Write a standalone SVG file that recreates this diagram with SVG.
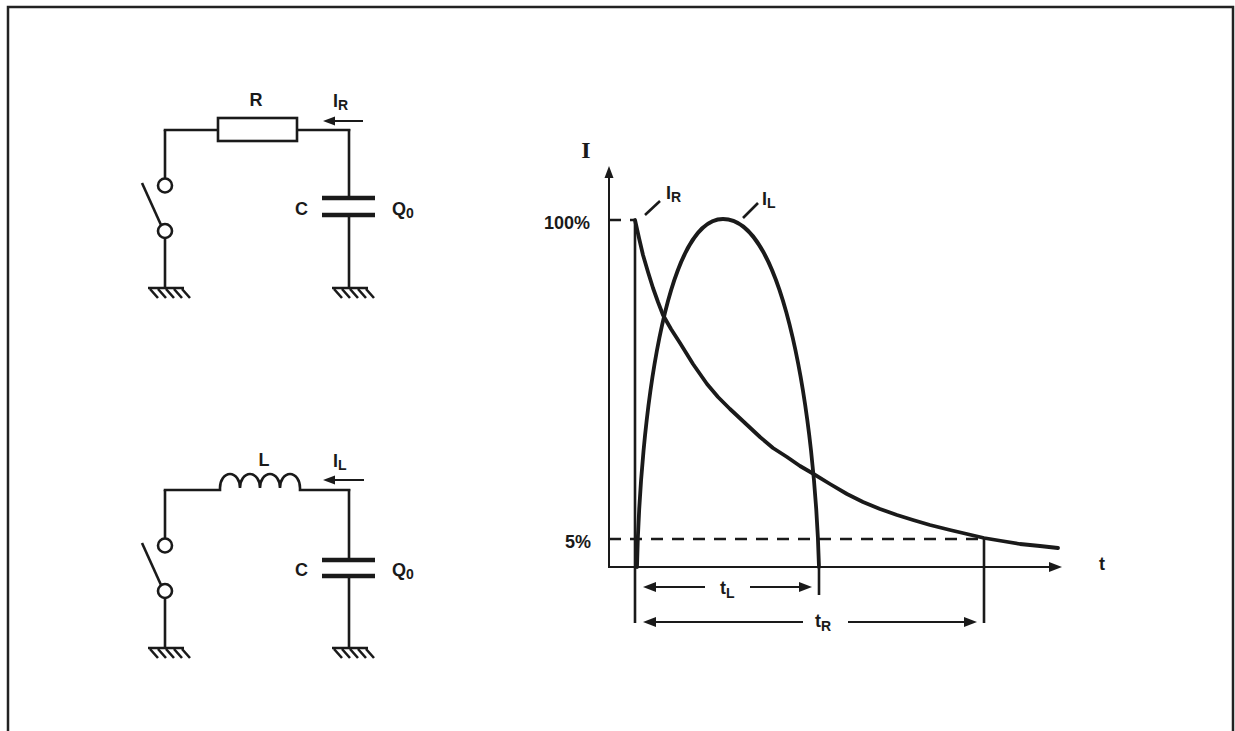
<svg xmlns="http://www.w3.org/2000/svg" width="1235" height="731" viewBox="0 0 1235 731">
<style>
.w{fill:none;stroke:#1a1a1a;stroke-width:2.6;stroke-linecap:butt}
.thin{fill:none;stroke:#1a1a1a;stroke-width:2}
.cv{fill:none;stroke:#1a1a1a;stroke-width:3.8;stroke-linejoin:round;stroke-linecap:round}
.plate{stroke:#1a1a1a;stroke-width:4.5}
.dash{fill:none;stroke:#1a1a1a;stroke-width:2.4;stroke-dasharray:12 9}
.hd{fill:#1a1a1a}
.lb{font-family:"Liberation Sans",Arial,sans-serif;font-size:18px;font-weight:bold;fill:#1a1a1a}
.sb{font-size:14px}
</style>
<defs>
<g id="gnd">
<line class="w" x1="-17" y1="0" x2="19" y2="0"/>
<path class="w" d="M-15,1 l8,9 M-7,1 l8,9 M1,1 l8,9 M9,1 l8,9 M17,1 l8,9"/>
</g>
</defs>
<g id="frame">
<path d="M8,731 V7 H1233 V731" fill="none" stroke="#222" stroke-width="2.5"/>
</g>
<g id="circuit-R">
<g id="switch-R">
<line class="w" x1="165" y1="130" x2="165" y2="178.5"/>
<circle class="w" cx="165" cy="185.5" r="7"/>
<circle class="w" cx="165" cy="231" r="7"/>
<line class="w" x1="142" y1="183" x2="161" y2="225"/>
<line class="w" x1="165" y1="238" x2="165" y2="288"/>
<use href="#gnd" x="165" y="288"/>
</g>
<g id="resistor">
<line class="w" x1="163.7" y1="130" x2="218" y2="130"/>
<rect class="w" x="218" y="118" width="79" height="23"/>
<line class="w" x1="297" y1="130" x2="350.3" y2="130"/>
<text class="lb" x="256" y="106" text-anchor="middle">R</text>
</g>
<g id="capacitor-R">
<line class="w" x1="349" y1="129" x2="349" y2="198"/>
<line class="plate" x1="322" y1="198" x2="375" y2="198"/>
<line class="plate" x1="322" y1="215" x2="375" y2="215"/>
<line class="w" x1="349" y1="215" x2="349" y2="288"/>
<use href="#gnd" x="349" y="288"/>
<text class="lb" x="308" y="215" text-anchor="end">C</text>
<text class="lb" x="392" y="215">Q<tspan class="sb" dy="3">0</tspan></text>
</g>
<g id="current-R">
<line class="thin" x1="333" y1="121" x2="363" y2="121"/>
<path class="hd" d="M323,121 L335,116.5 L335,125.5 Z"/>
<text class="lb" x="333" y="107">I<tspan class="sb" dy="3">R</tspan></text>
</g>
</g>
<g id="circuit-L">
<g id="switch-L">
<line class="w" x1="165" y1="490" x2="165" y2="538.5"/>
<circle class="w" cx="165" cy="545.5" r="7"/>
<circle class="w" cx="165" cy="591" r="7"/>
<line class="w" x1="142" y1="543" x2="161" y2="585"/>
<line class="w" x1="165" y1="598" x2="165" y2="648"/>
<use href="#gnd" x="165" y="648"/>
</g>
<g id="inductor">
<path class="w" d="M163.7,490 H220 V488 A10,14 0 0 1 240,488 A10,14 0 0 1 260,488 A10,14 0 0 1 280,488 A10,14 0 0 1 300,488 V490 H350.3"/>
<text class="lb" x="264" y="466" text-anchor="middle">L</text>
</g>
<g id="capacitor-L">
<line class="w" x1="349" y1="489" x2="349" y2="560"/>
<line class="plate" x1="322" y1="560" x2="375" y2="560"/>
<line class="plate" x1="322" y1="576" x2="375" y2="576"/>
<line class="w" x1="349" y1="576" x2="349" y2="648"/>
<use href="#gnd" x="349" y="648"/>
<text class="lb" x="308" y="576" text-anchor="end">C</text>
<text class="lb" x="392" y="576">Q<tspan class="sb" dy="3">0</tspan></text>
</g>
<g id="current-L">
<line class="thin" x1="333" y1="480" x2="364" y2="480"/>
<path class="hd" d="M323,480 L335,475.5 L335,484.5 Z"/>
<text class="lb" x="333" y="467">I<tspan class="sb" dy="3">L</tspan></text>
</g>
</g>
<g id="graph">
<g id="axes">
<line class="thin" x1="609" y1="568" x2="609" y2="176"/>
<path class="hd" d="M609,166 L613.5,178 L604.5,178 Z"/>
<line class="thin" x1="608" y1="567" x2="1052" y2="567"/>
<path class="hd" d="M1062,567 L1049,562 L1049,572 Z"/>
<text x="586" y="158" text-anchor="middle" font-family="'Liberation Serif','Times New Roman',serif" font-weight="bold" font-size="24" fill="#1a1a1a">I</text>
<text class="lb" x="1102" y="570" text-anchor="middle">t</text>
<text class="lb" x="590" y="229" text-anchor="end">100%</text>
<text class="lb" x="591" y="548" text-anchor="end">5%</text>
<path class="dash" d="M609,220 H636"/>
<path class="dash" d="M609,539 H984"/>
</g>
<g id="curve-IR">
<polyline class="cv" points="635,220 639,238 643,255 648,272 653,288 658,302 663,315 671,329 680,343 693,364 707,384 718,397 730,409 745,423 760,437 773,448 787,457 800,466 812,473 830,484 847,494 863,502 880,509 897,515 913,520 930,525 950,530 967,534 984,538 1002,541 1020,544 1040,546 1058,548"/>
<line class="w" x1="645" y1="215" x2="660" y2="201"/>
<text class="lb" x="666" y="199">I<tspan class="sb" dy="3">R</tspan></text>
</g>
<g id="curve-IL">
<path class="cv" d="M637,567 C640,420 665,219 723,219 C785,219 815,420 819,567"/>
<line class="w" x1="743" y1="218" x2="758" y2="203"/>
<text class="lb" x="762" y="205">I<tspan class="sb" dy="3">L</tspan></text>
</g>
</g>
<g id="connectors">
<line class="w" x1="635" y1="220" x2="635" y2="623"/>
<line class="w" x1="819" y1="567" x2="819" y2="595"/>
<line class="w" x1="984" y1="539" x2="984" y2="623"/>
<line class="thin" x1="653" y1="587" x2="705" y2="587"/>
<path class="hd" d="M643,587 L656,582 L656,592 Z"/>
<line class="thin" x1="750" y1="587" x2="802" y2="587"/>
<path class="hd" d="M812,587 L799,582 L799,592 Z"/>
<line class="thin" x1="653" y1="622" x2="803" y2="622"/>
<path class="hd" d="M643,622 L656,617 L656,627 Z"/>
<line class="thin" x1="848" y1="622" x2="967" y2="622"/>
<path class="hd" d="M977,622 L964,617 L964,627 Z"/>
<text class="lb" x="720" y="594">t<tspan class="sb" dy="4">L</tspan></text>
<text class="lb" x="815" y="627">t<tspan class="sb" dy="4">R</tspan></text>
</g>
</svg>
